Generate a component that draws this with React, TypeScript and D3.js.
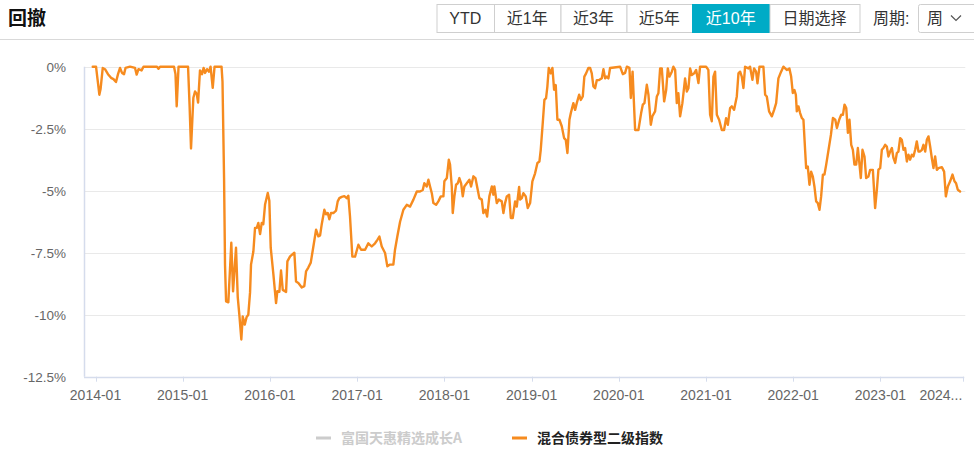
import React from 'react';
import * as d3 from 'd3';

// ---------- data ----------
const title = '回撤';
const tabLabels = ['YTD', '近1年', '近3年', '近5年', '近10年', '日期选择'];
const activeTab = '近10年';
const periodLabel = '周期:';
const periodValue = '周';
const legendNames = ['富国天惠精选成长A', '混合债券型二级指数'];
const yTickValues = [0, -2.5, -5, -7.5, -10, -12.5];
const xTickValues = [2014, 2015, 2016, 2017, 2018, 2019, 2020, 2021, 2022, 2023, 2023.95];
const xTickLabels = ['2014-01', '2015-01', '2016-01', '2017-01', '2018-01', '2019-01', '2020-01', '2021-01', '2022-01', '2023-01', '2024...'];

const dates = [
  2013.968, 2014.006, 2014.023, 2014.044, 2014.058, 2014.083, 2014.109, 2014.143, 2014.178, 2014.206,
  2014.235, 2014.258, 2014.281, 2014.304, 2014.327, 2014.344, 2014.396, 2014.453, 2014.472, 2014.493,
  2014.528, 2014.550, 2014.705, 2014.722, 2014.740, 2014.900, 2014.917, 2014.931, 2014.952, 2015.061,
  2015.078, 2015.095, 2015.112, 2015.122, 2015.141, 2015.161, 2015.176, 2015.198, 2015.221, 2015.239,
  2015.256, 2015.279, 2015.302, 2015.319, 2015.344, 2015.365, 2015.445, 2015.456, 2015.474, 2015.485,
  2015.497, 2015.523, 2015.557, 2015.577, 2015.611, 2015.631, 2015.649, 2015.672, 2015.688, 2015.711,
  2015.732, 2015.752, 2015.772, 2015.783, 2015.810, 2015.829, 2015.849, 2015.867, 2015.887, 2015.906,
  2015.924, 2015.944, 2015.975, 2015.993, 2016.009, 2016.039, 2016.070, 2016.085, 2016.108, 2016.127,
  2016.147, 2016.185, 2016.200, 2016.231, 2016.280, 2016.299, 2016.326, 2016.365, 2016.394, 2016.414,
  2016.440, 2016.468, 2016.498, 2016.529, 2016.555, 2016.575, 2016.594, 2016.624, 2016.643, 2016.663,
  2016.681, 2016.700, 2016.727, 2016.758, 2016.777, 2016.796, 2016.823, 2016.853, 2016.880, 2016.899,
  2016.918, 2016.945, 2016.976, 2017.014, 2017.045, 2017.091, 2017.128, 2017.167, 2017.205, 2017.232,
  2017.255, 2017.282, 2017.320, 2017.346, 2017.377, 2017.415, 2017.434, 2017.461, 2017.492, 2017.530,
  2017.569, 2017.607, 2017.645, 2017.684, 2017.721, 2017.752, 2017.770, 2017.798, 2017.817, 2017.836,
  2017.856, 2017.874, 2017.905, 2017.931, 2017.959, 2017.989, 2018.000, 2018.028, 2018.051, 2018.065,
  2018.085, 2018.096, 2018.115, 2018.134, 2018.154, 2018.172, 2018.192, 2018.211, 2018.229, 2018.257,
  2018.287, 2018.306, 2018.333, 2018.356, 2018.383, 2018.401, 2018.429, 2018.447, 2018.470, 2018.490,
  2018.516, 2018.544, 2018.562, 2018.573, 2018.601, 2018.624, 2018.658, 2018.677, 2018.696, 2018.716,
  2018.742, 2018.762, 2018.784, 2018.811, 2018.830, 2018.857, 2018.868, 2018.888, 2018.906, 2018.933,
  2018.956, 2018.983, 2019.009, 2019.040, 2019.067, 2019.090, 2019.105, 2019.128, 2019.147, 2019.166,
  2019.181, 2019.197, 2019.220, 2019.239, 2019.258, 2019.277, 2019.296, 2019.319, 2019.346, 2019.373,
  2019.392, 2019.411, 2019.434, 2019.450, 2019.479, 2019.499, 2019.518, 2019.545, 2019.564, 2019.587,
  2019.605, 2019.625, 2019.651, 2019.671, 2019.690, 2019.709, 2019.728, 2019.748, 2019.774, 2019.805,
  2019.824, 2019.843, 2019.862, 2019.881, 2019.900, 2020.015, 2020.046, 2020.072, 2020.092, 2020.122,
  2020.138, 2020.158, 2020.187, 2020.225, 2020.256, 2020.275, 2020.294, 2020.321, 2020.340, 2020.367,
  2020.385, 2020.416, 2020.436, 2020.454, 2020.474, 2020.493, 2020.520, 2020.543, 2020.562, 2020.580,
  2020.608, 2020.626, 2020.646, 2020.665, 2020.683, 2020.703, 2020.729, 2020.760, 2020.780, 2020.798,
  2020.818, 2020.837, 2020.864, 2020.887, 2020.913, 2020.932, 2021.001, 2021.027, 2021.047, 2021.066,
  2021.085, 2021.104, 2021.124, 2021.150, 2021.181, 2021.207, 2021.230, 2021.250, 2021.276, 2021.296,
  2021.322, 2021.353, 2021.372, 2021.391, 2021.410, 2021.429, 2021.448, 2021.486, 2021.505, 2021.532,
  2021.551, 2021.574, 2021.590, 2021.613, 2021.658, 2021.678, 2021.697, 2021.723, 2021.755, 2021.781,
  2021.804, 2021.830, 2021.861, 2021.887, 2021.926, 2021.956, 2021.976, 2021.995, 2022.014, 2022.030,
  2022.041, 2022.060, 2022.079, 2022.099, 2022.117, 2022.136, 2022.148, 2022.167, 2022.186, 2022.205,
  2022.225, 2022.243, 2022.263, 2022.282, 2022.301, 2022.320, 2022.340, 2022.358, 2022.378, 2022.405,
  2022.432, 2022.455, 2022.482, 2022.501, 2022.527, 2022.550, 2022.570, 2022.588, 2022.608, 2022.627,
  2022.645, 2022.665, 2022.684, 2022.702, 2022.722, 2022.741, 2022.760, 2022.775, 2022.794, 2022.817,
  2022.836, 2022.862, 2022.882, 2022.913, 2022.939, 2022.959, 2022.977, 2022.997, 2023.016, 2023.034,
  2023.054, 2023.073, 2023.092, 2023.111, 2023.131, 2023.149, 2023.169, 2023.188, 2023.206, 2023.226,
  2023.245, 2023.264, 2023.283, 2023.303, 2023.321, 2023.340, 2023.360, 2023.378, 2023.398, 2023.417,
  2023.436, 2023.455, 2023.475, 2023.493, 2023.513, 2023.532, 2023.551, 2023.570, 2023.589, 2023.608,
  2023.627, 2023.647, 2023.665, 2023.704, 2023.730, 2023.750, 2023.773, 2023.799, 2023.826, 2023.849,
  2023.867, 2023.887, 2023.913,
];

// drawdown of 混合债券型二级指数, in %
const drawdown = [
  0, 0, -0.5, -1.13, -0.9, -0.05, -0.1, -0.3, -0.45, -0.5,
  -0.62, -0.3, -0.05, -0.25, -0.3, -0.05, 0, -0.05, -0.32, -0.1,
  -0.15, 0, 0, -0.08, 0, 0, -0.3, -1.6, 0, 0,
  -1.5, -3.3, -2.0, -1.25, -1.0, -1.1, -1.45, -0.15, -0.3, -0.05,
  -0.25, -0.1, -0.2, 0, -0.85, 0, 0, -0.6, -4.5, -8.0,
  -9.46, -9.5, -7.1, -9.06, -7.3, -9.3, -10.0, -11.0, -10.07, -10.4,
  -10.1, -10.0, -9.1, -7.98, -7.45, -6.5, -6.5, -6.3, -6.75, -6.3,
  -6.35, -5.56, -5.09, -5.4, -7.3, -8.35, -9.53, -9.05, -9.08, -8.22,
  -9.0, -9.08, -7.85, -7.65, -7.5, -8.66, -8.72, -8.9, -8.85, -8.25,
  -8.1, -7.9, -7.25, -6.57, -6.84, -6.8, -6.35, -5.77, -5.95, -5.9,
  -6.15, -5.9, -5.9, -5.8, -5.43, -5.3, -5.25, -5.22, -5.3, -5.2,
  -6.04, -7.66, -7.66, -7.18, -7.38, -7.38, -7.12, -7.25, -7.12, -6.98,
  -6.85, -7.25, -7.51, -8.05, -7.98, -7.98, -7.38, -6.84, -6.25, -5.77,
  -5.57, -5.64, -5.36, -5.03, -5.03, -4.97, -4.7, -4.83, -4.56, -4.83,
  -5.1, -5.5, -5.57, -5.43, -5.23, -5.23, -4.62, -4.49, -3.75, -3.95,
  -4.83, -5.9, -5.23, -4.76, -4.7, -4.49, -4.7, -5.23, -4.83, -4.7,
  -4.56, -4.83, -4.42, -4.49, -4.97, -5.3, -5.36, -5.9, -5.77, -6.04,
  -5.23, -4.83, -5.16, -4.83, -5.5, -5.36, -5.43, -5.9, -5.5, -5.23,
  -5.16, -6.1, -6.1, -5.43, -5.64, -4.85, -5.36, -5.3, -5.1, -5.23,
  -5.7, -5.5, -4.62, -4.3, -3.88, -3.82, -3.35, -2.27, -1.34, -1.27,
  -0.8, -0.05, -0.27, -0.05, -0.93, -0.74, -2.14, -2.14, -2.4, -2.88,
  -2.95, -3.48, -2.14, -1.87, -1.47, -1.74, -1.47, -1.13, -1.34, -1.2,
  -0.4, -0.27, -0.05, -0.05, -0.27, -0.8, -0.87, -0.54, -0.54, -0.47,
  -0.1, -0.47, -0.4, -0.47, -0.05, 0, -0.3, -0.25, 0, -0.05,
  -1.26, -0.2, -2.55, -2.55, -1.87, -1.53, -1.47, -0.73, -1.13, -2.34,
  -2.0, -1.8, -1.2, -1.07, -0.07, -0.07, -1.4, -0.94, -0.07, -0.4,
  -0.2, 0, -0.13, -1.47, -1.07, -2.0, -1.47, -0.47, -1.0, -0.87,
  -0.07, -0.34, -0.27, -0.13, -0.66, 0, 0, -0.13, -1.94, -2.2,
  -0.4, -0.2, -1.94, -2.14, -2.55, -2.55, -2.08, -2.34, -1.67, -1.6,
  -1.74, -1.2, -0.27, -0.2, -0.4, -0.86, 0, -0.07, 0, -0.53,
  -0.07, -0.2, -0.67, 0, 0, -1.13, -1.2, -1.8, -2.0, -1.74,
  -1.47, -0.47, -0.2, 0, -0.13, -0.07, -0.4, -1.06, -0.94, -1.13,
  -1.8, -1.6, -1.87, -2.07, -2.14, -3.35, -4.09, -4.03, -4.76, -4.23,
  -4.43, -4.83, -5.43, -5.5, -5.77, -5.23, -4.35, -4.35, -3.95, -3.35,
  -2.75, -2.07, -2.14, -2.47, -2.14, -1.94, -1.94, -1.53, -1.67, -2.67,
  -2.14, -3.15, -3.35, -3.95, -3.95, -3.28, -3.95, -4.49, -3.35, -3.62,
  -4.49, -4.43, -4.16, -4.16, -5.7, -4.96, -4.15, -4.09, -3.35, -3.28,
  -3.15, -3.22, -3.62, -3.42, -3.28, -3.68, -3.88, -3.48, -3.42, -2.88,
  -2.95, -3.35, -3.28, -3.82, -3.55, -3.75, -3.55, -3.62, -3.35, -3.01,
  -3.42, -3.42, -3.35, -3.15, -3.42, -2.95, -2.81, -3.22, -3.68, -4.09,
  -3.62, -4.16, -4.09, -4.05, -4.23, -5.23, -4.83, -4.62, -4.35, -4.62,
  -4.7, -4.96, -5.03,
];

// ---------- layout ----------
const W = 974;
const H = 457;
const plot = { left: 84, right: 963.3, top: 66.7, bottom: 376.7 };
const FONT = '"Liberation Sans", Arial, "Noto Sans CJK SC", sans-serif';
const CJK = '"Noto Sans CJK SC", sans-serif';
const ORANGE = '#f68b1f';
const AXIS = '#d5dcec';
const GRID = '#e9e9e9';
const TEAL = '#00abc6';

const tabEdges = [436.5, 494, 560.5, 626.5, 692, 769.5, 859.5];

export default function App() {
  const x = d3.scaleLinear().domain([2013.868, 2023.95]).range([plot.left, plot.right]);
  const y = d3.scaleLinear().domain([-12.5, 0]).range([plot.bottom, plot.top]);
  const pts = dates.map((t, i) => ({ t, v: drawdown[i] }));
  const line = d3
    .line<{ t: number; v: number }>()
    .x((d) => x(d.t))
    .y((d) => y(d.v));

  const yFmt = (v: number) => `${v}%`;
  const lastIdx = xTickValues.length - 1;

  return (
    <div style={{ position: 'absolute', left: 0, top: 0, width: W, height: H, background: '#fff' }}>
      <svg width={W} height={H} style={{ display: 'block', fontFamily: FONT }}>
        <rect x={0} y={0} width={W} height={H} fill="#fff" />
        {/* header */}
        <text x={8} y={25} fontSize={19} fontWeight="bold" fill="#111" fontFamily={CJK}>
          {title}
        </text>
        {tabLabels.map((lab, i) => {
          const x0 = tabEdges[i];
          const x1 = tabEdges[i + 1];
          const active = lab === activeTab;
          return (
            <g key={lab}>
              <rect
                x={x0 + 0.5}
                y={4.5}
                width={x1 - x0}
                height={28}
                fill={active ? TEAL : '#fff'}
                stroke={active ? TEAL : '#cfcfcf'}
              />
              <text
                x={(x0 + x1) / 2}
                y={24}
                textAnchor="middle"
                fontSize={16}
                fill={active ? '#fff' : '#333'}
              >
                {lab}
              </text>
            </g>
          );
        })}
        <text x={873} y={24} fontSize={16} fill="#333">
          {periodLabel}
        </text>
        <rect x={918.5} y={4.5} width={60} height={28} rx={2} fill="#fff" stroke="#cfcfcf" />
        <text x={927} y={24} fontSize={16} fill="#333">
          {periodValue}
        </text>
        <path d="M951,15.5 L956,20.5 L961,15.5" fill="none" stroke="#555" strokeWidth={1.2} />
        <line x1={0} x2={W} y1={39.5} y2={39.5} stroke="#d9d9d9" strokeWidth={1} />

        {/* grid */}
        {yTickValues.map((v) => (
          <g key={v}>
            {v !== -12.5 && (
              <line x1={plot.left} x2={plot.right + 2} y1={Math.round(y(v)) + 0.5} y2={Math.round(y(v)) + 0.5} stroke={GRID} />
            )}
            <text x={66} y={y(v) + 5} textAnchor="end" fontSize={13.5} fill="#666">
              {yFmt(v)}
            </text>
          </g>
        ))}
        {/* axes */}
        <line x1={plot.left + 0.5} x2={plot.left + 0.5} y1={plot.top} y2={plot.bottom} stroke={AXIS} strokeWidth={1.5} />
        <line x1={plot.left} x2={plot.right + 1} y1={Math.round(plot.bottom) + 0.5} y2={Math.round(plot.bottom) + 0.5} stroke={AXIS} strokeWidth={1.5} />
        {xTickValues.map((t, i) => (
          <g key={t}>
            <line x1={Math.round(x(t)) + 0.5} x2={Math.round(x(t)) + 0.5} y1={plot.bottom} y2={plot.bottom + 5} stroke={AXIS} />
            <text
              x={i === lastIdx ? x(t) - 1 : x(t)}
              y={plot.bottom + 23}
              textAnchor={i === lastIdx ? 'end' : 'middle'}
              fontSize={14}
              fill="#666"
            >
              {xTickLabels[i]}
            </text>
          </g>
        ))}

        {/* series */}
        <path d={line(pts) || ''} fill="none" stroke={ORANGE} strokeWidth={2.4} strokeLinejoin="round" strokeLinecap="round" />

        {/* legend */}
        <rect x={316} y={436.5} width={15} height={3} fill="#ccc" />
        <text x={341} y={443} fontSize={14} fill="#ccc" fontFamily={CJK} fontWeight={600}>
          {legendNames[0]}
        </text>
        <rect x={512} y={436.5} width={15} height={3} fill={ORANGE} />
        <text x={537} y={443} fontSize={14} fill="#222" fontFamily={CJK} fontWeight={600}>
          {legendNames[1]}
        </text>
      </svg>
    </div>
  );
}
